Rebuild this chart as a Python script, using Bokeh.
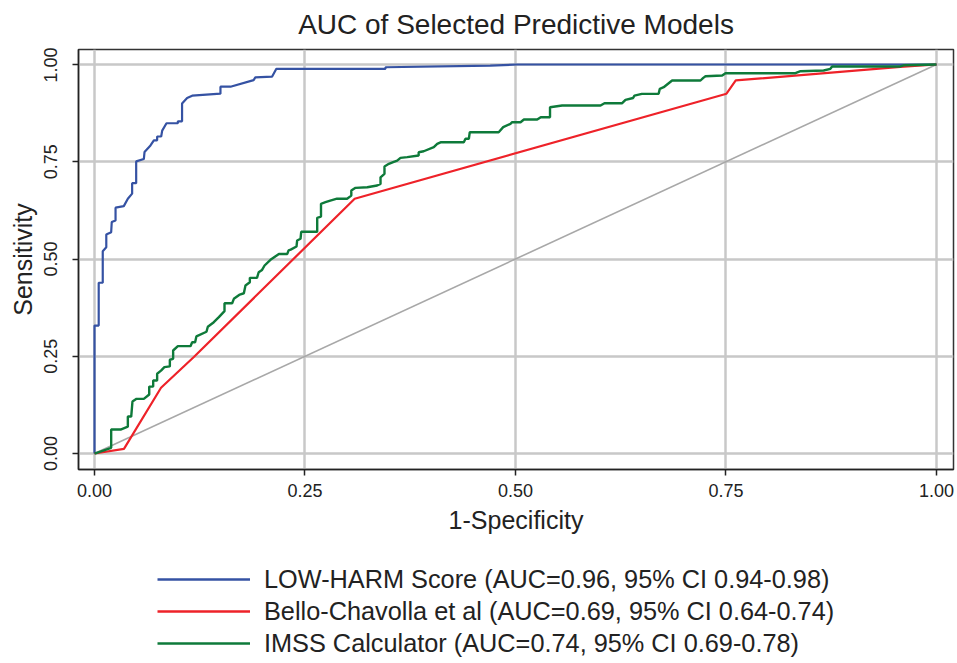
from bokeh.plotting import figure
from bokeh.layouts import column
from bokeh.models import Range1d, FixedTicker, Legend, LegendItem, Label
from bokeh.embed import file_html
from bokeh.resources import INLINE

title_text = "AUC of Selected Predictive Models"
x_label = "1-Specificity"
y_label = "Sensitivity"
tick_values = [0.0, 0.25, 0.5, 0.75, 1.0]
tick_labels = ["0.00", "0.25", "0.50", "0.75", "1.00"]

series_names = [
    "LOW-HARM Score (AUC=0.96, 95% CI 0.94-0.98)",
    "Bello-Chavolla et al (AUC=0.69, 95% CI 0.64-0.74)",
    "IMSS Calculator (AUC=0.74, 95% CI 0.69-0.78)",
]
series_colors = ["#3552a3", "#ee2229", "#0e7a3a"]

lowharm_fpr = [0.0, 0.0, 0.005, 0.005, 0.0098, 0.0098, 0.014, 0.014, 0.0198, 0.0205,
               0.025, 0.025, 0.0348, 0.0396, 0.0447, 0.0447, 0.0495, 0.0495, 0.0586, 0.0594,
               0.0665, 0.0705, 0.0744, 0.0744, 0.0792, 0.0804, 0.0855, 0.099, 0.099, 0.104,
               0.104, 0.110, 0.116, 0.1496, 0.1496, 0.1615, 0.189, 0.191, 0.211, 0.216,
               0.3456, 0.3456, 0.47, 0.502, 1.0]
lowharm_tpr = [0.0, 0.329, 0.329, 0.439, 0.439, 0.52, 0.53, 0.563, 0.569, 0.595,
               0.599, 0.632, 0.636, 0.655, 0.668, 0.695, 0.695, 0.751, 0.757, 0.775,
               0.792, 0.805, 0.805, 0.815, 0.815, 0.830, 0.849, 0.849, 0.854, 0.854,
               0.900, 0.914, 0.920, 0.925, 0.943, 0.943, 0.960, 0.967, 0.969, 0.989,
               0.989, 0.993, 0.997, 1.0, 1.0]

bello_fpr = [0.0, 0.035, 0.079, 0.118, 0.309, 0.7506, 0.7616, 0.957, 1.0]
bello_tpr = [0.0, 0.012, 0.169, 0.248, 0.655, 0.925, 0.959, 0.994, 1.0]

imss_fpr = [0.0, 0.0198, 0.0198, 0.031, 0.0396, 0.0396, 0.0436, 0.0451, 0.0499, 0.0586,
            0.065, 0.065, 0.0697, 0.0697, 0.0744, 0.0744, 0.079, 0.083, 0.0895, 0.0895,
            0.0934, 0.0934, 0.099, 0.114, 0.116, 0.1195, 0.121, 0.133, 0.1346, 0.1417,
            0.1477, 0.1544, 0.1544, 0.1635, 0.1655, 0.1726, 0.1774, 0.1793, 0.1845, 0.1845,
            0.193, 0.195, 0.199, 0.202, 0.209, 0.219, 0.229, 0.2305, 0.233, 0.2399,
            0.2407, 0.2447, 0.2455, 0.2645, 0.2645, 0.269, 0.269, 0.2743, 0.280, 0.288,
            0.300, 0.305, 0.305, 0.310, 0.324, 0.3357, 0.3397, 0.3397, 0.3444, 0.3444,
            0.3496, 0.3547, 0.3595, 0.3634, 0.3714, 0.385, 0.385, 0.391, 0.403, 0.407,
            0.411, 0.4386, 0.4406, 0.4446, 0.4457, 0.480, 0.4854, 0.494, 0.496, 0.506,
            0.510, 0.5258, 0.530, 0.541, 0.541, 0.5554, 0.601, 0.6057, 0.6267, 0.6306,
            0.6397, 0.6413, 0.650, 0.670, 0.6714, 0.676, 0.686, 0.7197, 0.723, 0.7257,
            0.7455, 0.7494, 0.8325, 0.8385, 0.866, 0.874, 0.876, 0.957, 0.961, 1.0]
imss_tpr = [0.0, 0.0146, 0.0617, 0.0617, 0.069, 0.095, 0.095, 0.1337, 0.1405, 0.1405,
            0.1517, 0.172, 0.172, 0.1877, 0.1877, 0.205, 0.213, 0.222, 0.224, 0.241,
            0.2434, 0.2648, 0.276, 0.276, 0.286, 0.286, 0.301, 0.313, 0.326, 0.3376,
            0.3505, 0.366, 0.3864, 0.3864, 0.3976, 0.4087, 0.412, 0.432, 0.4404, 0.4516,
            0.4516, 0.466, 0.472, 0.4833, 0.498, 0.513, 0.513, 0.522, 0.524, 0.532,
            0.5476, 0.552, 0.570, 0.570, 0.606, 0.609, 0.642, 0.646, 0.650, 0.655,
            0.655, 0.663, 0.676, 0.683, 0.6846, 0.689, 0.693, 0.710, 0.719, 0.738,
            0.7447, 0.749, 0.753, 0.760, 0.762, 0.766, 0.7746, 0.777, 0.7875, 0.796,
            0.800, 0.800, 0.809, 0.809, 0.826, 0.826, 0.839, 0.8475, 0.8517, 0.8517,
            0.8586, 0.8586, 0.8646, 0.8646, 0.890, 0.8946, 0.8946, 0.9006, 0.9006, 0.909,
            0.914, 0.920, 0.9246, 0.9246, 0.9375, 0.9417, 0.9589, 0.9589, 0.9657, 0.970,
            0.9717, 0.9776, 0.9776, 0.9828, 0.9846, 0.989, 0.995, 0.995, 0.998, 1.0]

diag = [0.0, 1.0]

FONT = "Liberation Sans"
TXT = "#222222"

# header strip carrying the title (frame aligned with the chart's frame)
h = figure(width=957, height=47, output_backend="svg", toolbar_location=None,
           x_axis_type=None, y_axis_type=None, x_range=Range1d(0, 1), y_range=Range1d(0, 1),
           min_border_left=78, min_border_right=4, min_border_top=0, min_border_bottom=0)
h.outline_line_color = None
h.xgrid.visible = False
h.ygrid.visible = False
h.add_layout(Label(x=0.5, y=0.5, text=title_text, text_align="center", text_baseline="middle",
                   text_font=FONT, text_font_size="28px", text_color=TXT))

p = figure(width=957, height=493, output_backend="svg", toolbar_location=None,
           x_range=Range1d(-0.019, 1.0202), y_range=Range1d(-0.0411, 1.0386),
           min_border_left=78, min_border_right=4, min_border_top=2, min_border_bottom=71)

p.outline_line_color = "#333333"
p.outline_line_width = 1.5
p.background_fill_color = "white"
p.border_fill_color = "white"

for ax in (p.xaxis[0], p.yaxis[0]):
    ax.ticker = FixedTicker(ticks=tick_values)
    ax.major_label_overrides = dict(zip(tick_values, tick_labels))
    ax.axis_line_color = "#222222"
    ax.axis_line_width = 1.5
    ax.major_tick_line_color = "#222222"
    ax.major_tick_line_width = 1.5
    ax.major_tick_out = 6
    ax.major_tick_in = 0
    ax.minor_tick_line_color = None
    ax.major_label_text_font = FONT
    ax.major_label_text_font_size = "18px"
    ax.major_label_text_color = TXT
    ax.axis_label_text_font = FONT
    ax.axis_label_text_font_size = "25px"
    ax.axis_label_text_font_style = "normal"
    ax.axis_label_text_color = TXT

p.xaxis.axis_label = x_label
p.yaxis.axis_label = y_label
p.xaxis.major_label_standoff = 8
p.xaxis.axis_label_standoff = 6
p.yaxis.major_label_orientation = "vertical"
p.yaxis.major_label_standoff = 15
p.yaxis.axis_label_standoff = 5

for g in (p.xgrid[0], p.ygrid[0]):
    g.ticker = FixedTicker(ticks=tick_values)
    g.grid_line_color = "#c8c8c8"
    g.grid_line_width = 2.5

p.line(diag, diag, line_color="#a8a8a8", line_width=1.6)
p.line(lowharm_fpr, lowharm_tpr, line_color=series_colors[0], line_width=2.2)
p.line(bello_fpr, bello_tpr, line_color=series_colors[1], line_width=2.2)
p.line(imss_fpr, imss_tpr, line_color=series_colors[2], line_width=2.4)

# legend strip below the chart (its frame is aligned with the chart's frame)
q = figure(width=957, height=123, output_backend="svg", toolbar_location=None,
           x_axis_type=None, y_axis_type=None, x_range=Range1d(5, 6), y_range=Range1d(5, 6),
           min_border_left=78, min_border_right=4, min_border_top=0, min_border_bottom=0)
q.outline_line_color = None
q.xgrid.visible = False
q.ygrid.visible = False
legend_data = [(lowharm_fpr, lowharm_tpr), (bello_fpr, bello_tpr), (imss_fpr, imss_tpr)]
items = []
for name, col, (xs, ys) in zip(series_names, series_colors, legend_data):
    r = q.line(xs, ys, line_color=col, line_width=2.6)
    items.append(LegendItem(label=name, renderers=[r]))

legend = Legend(items=items, location=(79, 4), orientation="vertical")
legend.label_text_font = FONT
legend.label_text_font_size = "25.3px"
legend.label_text_color = TXT
legend.glyph_width = 93
legend.glyph_height = 32
legend.label_height = 32
legend.spacing = 0
legend.padding = 0
legend.margin = 0
legend.label_standoff = 14
legend.border_line_color = None
legend.background_fill_alpha = 0
q.add_layout(legend)

layout = column(h, p, q, spacing=0)
open("out.html", "w").write(file_html(layout, INLINE))
